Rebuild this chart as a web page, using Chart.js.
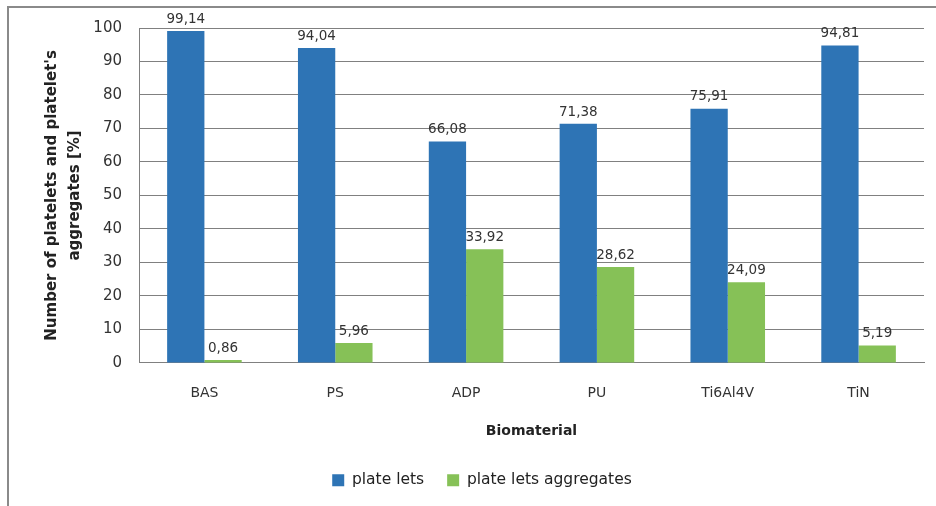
<!DOCTYPE html>
<html lang="en">
<head>
    <meta charset="UTF-8">
    <title>Platelets per biomaterial</title>
    <style>
        body {
            margin: 0;
            padding: 0;
            background: #fff;
        }

        .frame {
            position: absolute;
            left: 7px;
            top: 6px;
            width: 940px;
            height: 520px;
            border-left: 2px solid #8a8a8a;
            border-top: 2px solid #8a8a8a;
        }

        .chart-box {
            position: absolute;
            left: 0;
            top: 0;
            width: 936px;
            height: 506px;
        }
    </style>
</head>
<body>
    <div class="frame"></div>
    <div class="chart-box">
        <canvas id="chart"></canvas>
    </div>

<script src="https://cdn.jsdelivr.net/npm/chart.js"></script>
<script>
    // values
    const materials = ['BAS', 'PS', 'ADP', 'PU', 'Ti6Al4V', 'TiN'];
    const platelets = [99.14, 94.04, 66.08, 71.38, 75.91, 94.81];
    const aggregates = [0.86, 5.96, 33.92, 28.62, 24.09, 5.19];
    const yTicks = [0, 10, 20, 30, 40, 50, 60, 70, 80, 90, 100];

    const fontName = "'DejaVu Sans', sans-serif";

    // simple label drawer, numbers with a decimal comma above each bar
    const valueLabels = {
        id: 'valueLabels',
        afterDatasetsDraw(chart) {
            const ctx = chart.ctx;
            ctx.save();
            ctx.font = '13.5px ' + fontName;
            ctx.fillStyle = '#333';
            ctx.textAlign = 'center';
            ctx.textBaseline = 'bottom';
            chart.data.datasets.forEach((ds, i) => {
                chart.getDatasetMeta(i).data.forEach((bar, j) => {
                    const txt = ds.data[j].toFixed(2).replace('.', ',');
                    ctx.fillText(txt, bar.x, bar.y - 5);
                });
            });
            ctx.restore();
        }
    };

    const ctx = document.getElementById('chart').getContext('2d');
    const chart = new Chart(ctx, {
        type: 'bar',
        data: {
            labels: materials,
            datasets: [
                {
                    label: 'plate lets',
                    data: platelets,
                    backgroundColor: '#2e74b5',
                    barPercentage: 1.0,
                    categoryPercentage: 0.57
                },
                {
                    label: 'plate lets aggregates',
                    data: aggregates,
                    backgroundColor: '#86c157',
                    barPercentage: 1.0,
                    categoryPercentage: 0.57
                }
            ]
        },
        options: {
            responsive: true,
            maintainAspectRatio: false,
            animation: false,
            layout: {
                padding: { left: 40, right: 12, top: 28, bottom: 8 }
            },
            plugins: {
                legend: {
                    position: 'bottom',
                    labels: {
                        boxWidth: 12,
                        boxHeight: 12,
                        padding: 23,
                        color: '#222',
                        font: { family: fontName, size: 15.5 }
                    }
                },
                tooltip: { enabled: false }
            },
            scales: {
                x: {
                    grid: { display: false },
                    border: { color: '#808080', width: 1 },
                    ticks: {
                        color: '#333',
                        padding: 14,
                        font: { family: fontName, size: 14 }
                    },
                    title: {
                        display: true,
                        text: 'Biomaterial',
                        color: '#222',
                        padding: { top: 7, bottom: 10 },
                        font: { family: fontName, size: 14, weight: 'bold' }
                    }
                },
                y: {
                    min: 0,
                    max: 100,
                    afterBuildTicks(scale) {
                        scale.ticks = yTicks.map(v => ({ value: v }));
                    },
                    afterFit(scale) {
                        scale.width = 99;
                    },
                    grid: { color: '#808080', drawTicks: false },
                    border: { color: '#808080', width: 1 },
                    ticks: {
                        color: '#333',
                        padding: 17,
                        font: { family: fontName, size: 15 }
                    },
                    title: {
                        display: true,
                        text: ["Number of platelets and platelet's", 'aggregates [%]'],
                        color: '#222',
                        padding: 0,
                        font: { family: fontName, size: 15, weight: 'bold', lineHeight: 1.55 }
                    }
                }
            }
        },
        plugins: [valueLabels]
    });
</script>
</body>
</html>
